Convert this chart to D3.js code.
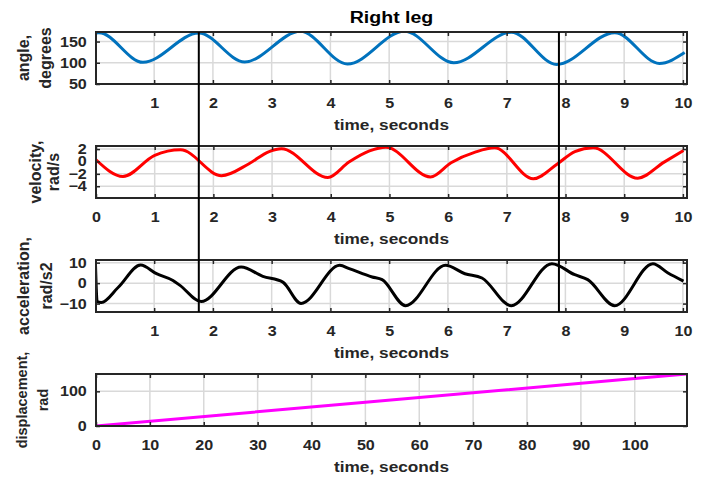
<!DOCTYPE html>
<html>
<head>
<meta charset="utf-8">
<script src="https://cdn.jsdelivr.net/npm/d3@7"></script>
<style>
  body { margin: 0; background: #fff; }
  svg { font-family: "Liberation Sans", Arial, sans-serif; font-weight: bold; }
</style>
</head>
<body>
<div id="chart"></div>
<script>
// values (time in seconds)
const angleTime = [0, 0.06, 0.81, 1.76, 2.54, 3.49, 4.29, 5.26, 6.10, 7.08, 7.85, 8.84, 9.60, 10.03];
const angleDeg  = [170, 171, 101, 170, 102, 174, 97, 174.5, 100, 172, 96, 171, 98.5, 124];

const velTime = [0, 0.46, 1.0, 1.44, 2.14, 2.6, 2.95, 3.16, 3.95, 4.31, 4.66, 4.94, 5.70, 6.05, 6.46, 6.79, 7.45, 7.86, 8.16, 8.47, 9.23, 9.68, 10.01];
const velRad  = [0.27, -2.42, 1.0, 1.88, -2.3, -0.4, 1.6, 2.05, -2.6, -0.1, 1.7, 2.3, -2.5, -0.2, 1.5, 2.2, -2.8, -0.4, 1.6, 2.2, -2.7, -0.1, 1.77];

const accTime = [0, 0.03, 0.1, 0.39, 0.77, 1.04, 1.32, 1.44, 1.80, 2.48, 2.85, 3.19, 3.50, 4.16, 4.32, 4.71, 4.88, 5.28, 5.96, 6.29, 6.58, 7.08, 7.77, 8.16, 8.38, 8.84, 9.49, 9.74, 10.01];
const accRad  = [10.5, -9.0, -9.4, -2.0, 8.8, 4.6, 1.3, -1.1, -9.0, 7.9, 3.3, 0.5, -9.9, 8.7, 7.1, 3.0, 1.7, -11, 8.7, 4.6, 2.5, -11, 9.5, 4.1, 1.7, -11, 9.5, 5.1, 1.0];

const dispTime = [0, 50, 100, 109.7];
const dispRad  = [0, 68.5, 137, 150];

// tick labels
const timeTicks  = [1, 2, 3, 4, 5, 6, 7, 8, 9, 10];
const timeTicks0 = [0, 1, 2, 3, 4, 5, 6, 7, 8, 9, 10];
const dispTicks  = [0, 10, 20, 30, 40, 50, 60, 70, 80, 90, 100];
const angleTicks = [50, 100, 150];
const velTicks   = [-4, -2, 0, 2];
const accTicks   = [-10, 0, 10];
const dispYTicks = [0, 100];

// vertical marker lines (seconds)
const markerTimes = [1.76, 7.89];

const width = 710, height = 479;
const plotLeft = 96, plotRight = 687;
const stretch = 1.15;   // text in the figure is a bit wide

let svg = d3.select("#chart")
    .append("svg")
    .attr("width", width)
    .attr("height", height);

let panels = [
  {top: 32, bottom: 84, xDomain: [0.01, 10.07], xTicks: timeTicks, yDomain: [50, 172.5], yTicks: angleTicks,
   t: angleTime, v: angleDeg, color: "#0072BD", label: ["angle,", "degrees"], labelX: [23, 45], labelSize: 16, curve: d3.curveMonotoneX},
  {top: 146, bottom: 198, xDomain: [0, 10.07], xTicks: timeTicks0, yDomain: [-5.9, 2.5], yTicks: velTicks,
   t: velTime, v: velRad, color: "#FF0000", label: ["velocity,", "rad/s"], labelX: [35, 53], labelSize: 16, curve: d3.curveMonotoneX},
  {top: 260, bottom: 312, xDomain: [0.01, 10.07], xTicks: timeTicks, yDomain: [-14.1, 11.3], yTicks: accTicks,
   t: accTime, v: accRad, color: "#000000", label: ["acceleration,", "rad/s2"], labelX: [23, 46], labelSize: 16, curve: d3.curveMonotoneX},
  {top: 374, bottom: 426, xDomain: [0, 109.7], xTicks: dispTicks, yDomain: [0, 150], yTicks: dispYTicks,
   t: dispTime, v: dispRad, color: "#FF00FF", label: ["displacement,", "rad"], labelX: [22, 43], labelSize: 14.5, curve: d3.curveLinear}
];

let firstX = null;

panels.forEach(function(p, i) {
  let w = plotRight - plotLeft, h = p.bottom - p.top;
  let x = d3.scaleLinear().domain(p.xDomain).range([0, w]);
  let y = d3.scaleLinear().domain(p.yDomain).range([h, 0]);
  if (i === 0) firstX = x;

  let g = svg.append("g").attr("transform", `translate(${plotLeft},${p.top})`);

  g.append("clipPath").attr("id", "clip" + i)
    .append("rect").attr("width", w).attr("height", h);

  // grid
  g.selectAll(".gx").data(p.xTicks).enter().append("line")
    .attr("x1", d => x(d)).attr("x2", d => x(d))
    .attr("y1", 0).attr("y2", h)
    .attr("stroke", "#d9d9d9").attr("stroke-width", 1.5);
  g.selectAll(".gy").data(p.yTicks).enter().append("line")
    .attr("y1", d => y(d)).attr("y2", d => y(d))
    .attr("x1", 0).attr("x2", w)
    .attr("stroke", "#d9d9d9").attr("stroke-width", 1.5);

  // curve
  let pts = p.t.map((t, k) => [t, p.v[k]]);
  let line = d3.line().x(d => x(d[0])).y(d => y(d[1])).curve(p.curve);
  g.append("path")
    .datum(pts)
    .attr("clip-path", `url(#clip${i})`)
    .attr("d", line)
    .attr("fill", "none")
    .attr("stroke", p.color)
    .attr("stroke-width", 3)
    .attr("stroke-linejoin", "round");

  // axes, ticks pointing inward
  let bottomAxis = g.append("g").attr("transform", `translate(0,${h})`)
    .call(d3.axisBottom(x).tickValues(p.xTicks).tickSizeInner(-4).tickSizeOuter(0).tickPadding(14).tickFormat(d3.format("d")));
  let leftAxis = g.append("g")
    .call(d3.axisLeft(y).tickValues(p.yTicks).tickSizeInner(-4).tickSizeOuter(0).tickPadding(8).tickFormat(d3.format("d")));
  g.append("g")
    .call(d3.axisTop(x).tickValues(p.xTicks).tickSizeInner(-4).tickSizeOuter(0).tickFormat(""));
  g.append("g").attr("transform", `translate(${w},0)`)
    .call(d3.axisRight(y).tickValues(p.yTicks).tickSizeInner(-4).tickSizeOuter(0).tickFormat(""));

  g.selectAll(".domain").remove();
  g.selectAll(".tick line").attr("stroke", "#262626").attr("stroke-width", 1.5);
  [bottomAxis, leftAxis].forEach(function(a) {
    a.selectAll("text")
      .attr("fill", "#262626")
      .style("font-size", "14px")
      .style("font-weight", "bold")
      .style("font-family", "'Liberation Sans', Arial, sans-serif")
      .attr("transform", `scale(${stretch},1)`);
  });

  // box
  g.append("rect")
    .attr("width", w).attr("height", h)
    .attr("fill", "none")
    .attr("stroke", "#262626")
    .attr("stroke-width", 2);

  // x label
  svg.append("g")
    .attr("transform", `translate(${plotLeft + w / 2},${p.bottom + 46}) scale(${stretch},1)`)
    .append("text")
    .attr("text-anchor", "middle")
    .attr("fill", "#262626")
    .style("font-size", "15px")
    .text("time, seconds");

  // y label, two lines
  p.label.forEach(function(s, k) {
    svg.append("text")
      .attr("transform", `translate(${p.labelX[k]},${p.top + h / 2}) rotate(-90)`)
      .attr("dy", "0.35em")
      .attr("text-anchor", "middle")
      .attr("fill", "#262626")
      .style("font-size", p.labelSize + "px")
      .text(s);
  });
});

// title
svg.append("g")
  .attr("transform", `translate(${(plotLeft + plotRight) / 2},23) scale(${stretch},1)`)
  .append("text")
  .attr("text-anchor", "middle")
  .attr("fill", "#000")
  .style("font-size", "17px")
  .text("Right leg");

// marker lines across the first three panels
svg.selectAll(".marker").data(markerTimes).enter().append("line")
  .attr("x1", d => plotLeft + firstX(d)).attr("x2", d => plotLeft + firstX(d))
  .attr("y1", panels[0].top).attr("y2", panels[2].bottom)
  .attr("stroke", "#000").attr("stroke-width", 2);
</script>
</body>
</html>
